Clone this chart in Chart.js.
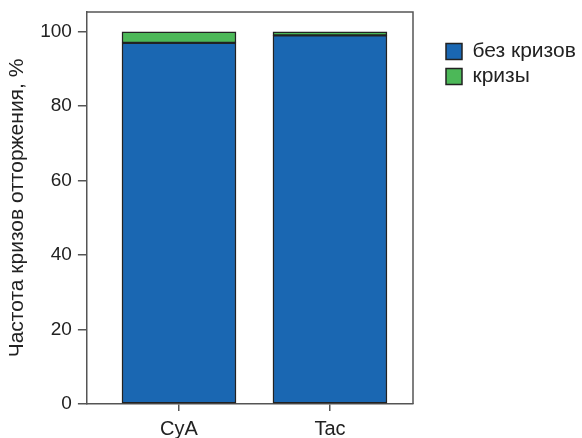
<!DOCTYPE html>
<html><head><meta charset="utf-8">
<script src="https://cdn.jsdelivr.net/npm/chart.js@4"></script>
<style>html,body{margin:0;padding:0;background:#fff}#w{width:582px;height:438px}</style>
</head><body><div id="w"><canvas id="c"></canvas></div>
<script>
const categories = ['CyA', 'Tac'];
const noCrisis = [97, 99];
const crisis = [3, 1];
const yTicks = [0, 20, 40, 60, 80, 100];
const seriesNames = ['без кризов', 'кризы'];

const frame = {
  id: 'frame',
  afterDraw(chart) {
    const a = chart.chartArea, ctx = chart.ctx;
    ctx.save();
    ctx.strokeStyle = '#555';
    ctx.lineWidth = 1.5;
    ctx.beginPath();
    ctx.moveTo(a.left, a.top); ctx.lineTo(a.right, a.top); ctx.lineTo(a.right, a.bottom);
    ctx.stroke();
    ctx.restore();
  }
};

const legendPlace = {
  id: 'legendPlace',
  beforeInit(chart) {
    const lg = chart.legend;
    if (!lg) return;
    const fit = lg.fit.bind(lg);
    lg.fit = function () { fit(); this.width = 169; };
  },
  afterLayout(chart) {
    const lg = chart.legend;
    lg.left += 29; lg.top = 41 - 4;
  }
};

const fam = '"Liberation Sans", Arial, sans-serif';
new Chart(document.getElementById('c'), {
  type: 'bar',
  data: {
    datasets: [
      {label: seriesNames[0], data: noCrisis.map((v, i) => ({x: i, y: v})), backgroundColor: '#1a67b2', borderColor: '#222', borderWidth: 1.5, borderSkipped: false, barThickness: 114},
      {label: seriesNames[1], data: crisis.map((v, i) => ({x: i, y: v})), backgroundColor: '#4cb858', borderColor: '#222', borderWidth: 1.5, borderSkipped: false, barThickness: 114}
    ]
  },
  plugins: [frame, legendPlace],
  options: {
    responsive: true, maintainAspectRatio: false, animation: false,
    layout: {padding: {top: 12, left: -1, right: 0, bottom: -9}},
    plugins: {
      tooltip: {enabled: false},
      legend: {
        position: 'right', align: 'start',
        labels: {font: {family: fam, size: 21}, color: '#222', boxWidth: 16, boxHeight: 16, padding: 4}
      }
    },
    scales: {
      x: {
        type: 'linear', stacked: true, min: -0.61, max: 1.55, offset: false,
        afterBuildTicks: s => { s.ticks = categories.map((c, i) => ({value: i})); },
        ticks: {font: {family: fam, size: 20}, color: '#222', callback: v => categories[v], padding: 6, autoSkip: false, maxRotation: 0},
        grid: {offset: false, drawOnChartArea: false, tickLength: 7, color: '#555', lineWidth: 1.5},
        border: {display: true, color: '#555', width: 1.5}
      },
      y: {
        stacked: true, min: 0, max: 105.3,
        afterBuildTicks: s => { s.ticks = yTicks.map(v => ({value: v})); },
        afterFit: s => { s.paddingTop = 0; },
        ticks: {font: {family: fam, size: 19}, color: '#222', padding: 6},
        grid: {drawOnChartArea: false, tickLength: 9, color: '#555', lineWidth: 1.5},
        border: {display: true, color: '#555', width: 1.5},
        title: {display: true, text: 'Частота кризов отторжения, %', font: {family: fam, size: 21}, color: '#222', padding: {top: 6, bottom: 4}}
      }
    }
  }
});
</script></body></html>
